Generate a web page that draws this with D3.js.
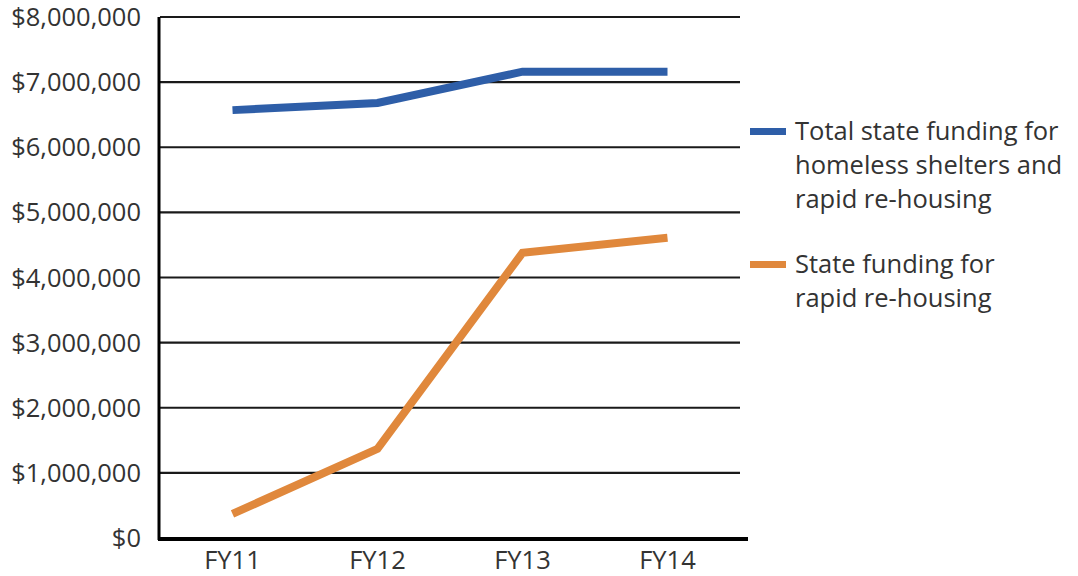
<!DOCTYPE html>
<html>
<head>
<meta charset="utf-8">
<script src="https://cdn.jsdelivr.net/npm/d3@7"></script>
<style>
  body { margin: 0; background: #fff; }
  text { font-family: "Open Sans", "Noto Sans", sans-serif; fill: #333; }
</style>
</head>
<body>
<div id="chart"></div>
<script>
var years = ["FY11", "FY12", "FY13", "FY14"];
var totalFunding = [6570000, 6680000, 7160000, 7160000];
var rapidFunding = [370000, 1370000, 4380000, 4610000];
var yTicks = [0, 1000000, 2000000, 3000000, 4000000, 5000000, 6000000, 7000000, 8000000];
var seriesNames = [
    ["Total state funding for", "homeless shelters and", "rapid re-housing"],
    ["State funding for", "rapid re-housing"]
];
var seriesColors = ["#2e5ea8", "#e0883c"];

var W = 1078, H = 576;
var LEFT = 160, RIGHT = 740, TOP = 17, BOTTOM = 538;
var FONT = "25.5px";

var svg = d3.select("#chart").append("svg")
    .attr("width", W)
    .attr("height", H);

var x = d3.scalePoint().domain(years).range([LEFT, RIGHT]).padding(0.5);
var y = d3.scaleLinear().domain([0, 8000000]).range([BOTTOM, TOP]);

// gridlines
svg.selectAll(".grid").data(yTicks.slice(1))
    .enter().append("line")
    .attr("class", "grid")
    .attr("x1", LEFT).attr("x2", RIGHT)
    .attr("y1", function(d){ return y(d); })
    .attr("y2", function(d){ return y(d); })
    .attr("stroke", "#1a1a1a")
    .attr("stroke-width", 2.2);

// y labels
svg.selectAll(".ylab").data(yTicks)
    .enter().append("text")
    .attr("class", "ylab")
    .attr("x", 141)
    .attr("y", function(d){ return y(d) + 9; })
    .attr("text-anchor", "end")
    .style("font-size", FONT)
    .text(function(d){ return "$" + d3.format(",")(d); });

// x labels
svg.selectAll(".xlab").data(years)
    .enter().append("text")
    .attr("class", "xlab")
    .attr("x", function(d){ return x(d); })
    .attr("y", 569)
    .attr("text-anchor", "middle")
    .style("font-size", FONT)
    .text(function(d){ return d; });

// lines
var line = d3.line()
    .x(function(d, i){ return x(years[i]); })
    .y(function(d){ return y(d); });

[totalFunding, rapidFunding].forEach(function(s, i) {
    svg.append("path")
        .attr("d", line(s))
        .attr("fill", "none")
        .attr("stroke", seriesColors[i])
        .attr("stroke-width", 8)
        .attr("stroke-linejoin", "miter");
});

// axes
svg.append("line")
    .attr("x1", LEFT - 1).attr("x2", LEFT - 1)
    .attr("y1", TOP).attr("y2", BOTTOM + 2)
    .attr("stroke", "#000").attr("stroke-width", 3);
svg.append("line")
    .attr("x1", LEFT - 2).attr("x2", 748)
    .attr("y1", BOTTOM + 1).attr("y2", BOTTOM + 1)
    .attr("stroke", "#000").attr("stroke-width", 4);

// legend
var legendTop = [131, 264];
seriesNames.forEach(function(lines, i) {
    var g = svg.append("g").attr("transform", "translate(750," + legendTop[i] + ")");
    g.append("rect")
        .attr("x", 0).attr("y", -3)
        .attr("width", 36).attr("height", 7)
        .attr("fill", seriesColors[i]);
    g.selectAll("text").data(lines)
        .enter().append("text")
        .attr("x", 45)
        .attr("y", function(d, j){ return 9 + j * 34; })
        .style("font-size", FONT)
        .text(function(d){ return d; });
});
</script>
</body>
</html>
